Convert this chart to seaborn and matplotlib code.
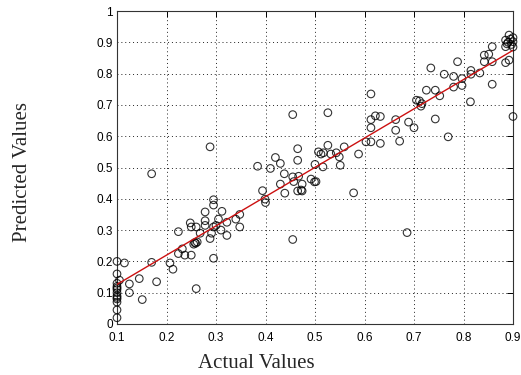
import matplotlib
matplotlib.use("Agg")
import matplotlib.pyplot as plt
import seaborn as sns
import pandas as pd
import numpy as np

actual = [0.1, 0.1, 0.1, 0.1, 0.1, 0.1, 0.1, 0.1, 0.1, 0.1, 0.1, 0.1, 0.1,
          0.115, 0.105, 0.125, 0.125, 0.145, 0.151, 0.17, 0.17, 0.18, 0.207, 0.213, 0.224,
          0.224, 0.232, 0.237, 0.25, 0.248, 0.25, 0.255, 0.257, 0.259, 0.262, 0.26, 0.26,
          0.268, 0.278, 0.278, 0.278, 0.288, 0.291, 0.295, 0.295, 0.295, 0.295, 0.3, 0.305,
          0.31, 0.312, 0.322, 0.322, 0.34, 0.348, 0.348, 0.288,
          0.384, 0.394, 0.399, 0.4, 0.41, 0.42, 0.43, 0.43, 0.438, 0.439, 0.455, 0.455,
          0.457, 0.465, 0.467, 0.474, 0.474, 0.492, 0.5, 0.502, 0.455, 0.465, 0.465, 0.507,
          0.499, 0.516, 0.472,
          0.526, 0.512, 0.517, 0.526, 0.532, 0.543, 0.549, 0.551, 0.559, 0.578, 0.588, 0.603,
          0.613, 0.613, 0.613, 0.622, 0.632, 0.632, 0.613, 0.663, 0.663, 0.671, 0.686, 0.689,
          0.7, 0.705, 0.711, 0.714, 0.716, 0.725, 0.734, 0.743, 0.743, 0.752, 0.761, 0.769,
          0.78, 0.78, 0.788, 0.797, 0.797, 0.815, 0.815, 0.814, 0.833, 0.842, 0.842, 0.851,
          0.858, 0.858, 0.858, 0.885, 0.885, 0.885, 0.89, 0.892, 0.892, 0.9, 0.9, 0.895,
          0.9, 0.888, 0.897, 0.9]
predicted = [0.02, 0.045, 0.07, 0.08, 0.09, 0.10, 0.11, 0.12, 0.13, 0.16, 0.2, 0.085, 0.115,
             0.195, 0.14, 0.128, 0.10, 0.145, 0.078, 0.197, 0.48, 0.135, 0.195, 0.175, 0.295,
             0.225, 0.24, 0.22, 0.22, 0.323, 0.31, 0.255, 0.26, 0.258, 0.262, 0.31, 0.113,
             0.29, 0.358, 0.33, 0.315, 0.273, 0.29, 0.21, 0.397, 0.38, 0.31, 0.315, 0.335,
             0.30, 0.36, 0.325, 0.283, 0.335, 0.35, 0.31, 0.566,
             0.504, 0.426, 0.399, 0.388, 0.497, 0.532, 0.513, 0.447, 0.48, 0.418, 0.27, 0.47,
             0.455, 0.425, 0.472, 0.425, 0.447, 0.463, 0.51, 0.455, 0.669, 0.56, 0.523, 0.55,
             0.454, 0.502, 0.428,
             0.675, 0.543, 0.547, 0.571, 0.543, 0.547, 0.534, 0.507, 0.566, 0.419, 0.543, 0.582,
             0.582, 0.627, 0.653, 0.665, 0.663, 0.577, 0.735, 0.653, 0.619, 0.584, 0.292, 0.645,
             0.627, 0.715, 0.713, 0.696, 0.704, 0.747, 0.818, 0.747, 0.655, 0.729, 0.798, 0.598,
             0.791, 0.757, 0.838, 0.762, 0.784, 0.81, 0.798, 0.71, 0.802, 0.859, 0.838, 0.862,
             0.886, 0.838, 0.766, 0.835, 0.886, 0.907, 0.9, 0.923, 0.843, 0.902, 0.663, 0.91,
             0.885, 0.895, 0.893, 0.915]

x_ticks = [0.1, 0.2, 0.3, 0.4, 0.5, 0.6, 0.7, 0.8, 0.9]
x_tick_labels = ["0.1", "0.2", "0.3", "0.4", "0.5", "0.6", "0.7", "0.8", "0.9"]
y_ticks = [0, 0.1, 0.2, 0.3, 0.4, 0.5, 0.6, 0.7, 0.8, 0.9, 1]
y_tick_labels = ["0", "0.1", "0.2", "0.3", "0.4", "0.5", "0.6", "0.7", "0.8", "0.9", "1"]

df = pd.DataFrame({"Actual": actual, "Predicted": predicted})

sns.set_style("white")
plt.rcParams["font.family"] = ["Liberation Sans", "DejaVu Sans"]

fig = plt.figure(figsize=(5.21, 3.75), dpi=100)
ax = fig.add_axes([117/521, 1 - 324/375, (513 - 117)/521, (324 - 11)/375])

sns.regplot(data=df, x="Actual", y="Predicted", ax=ax, ci=None, truncate=True,
            scatter_kws=dict(s=30, facecolors="none", edgecolors="black",
                             linewidths=0.8, clip_on=False, zorder=3),
            line_kws=dict(color="#cc1010", linewidth=1.0, zorder=4))

ax.set_xlim(0.1, 0.9)
ax.set_ylim(0, 1)
ax.set_xticks(x_ticks)
ax.set_xticklabels(x_tick_labels)
ax.set_yticks(y_ticks)
ax.set_yticklabels(y_tick_labels)
ax.set_xlabel("")
ax.set_ylabel("")
ax.grid(True, linestyle=(0, (1, 3)), color="#222222", linewidth=0.7)
ax.tick_params(direction="in", length=4, width=0.7, labelsize=8.5, colors="black",
               top=True, right=True)
ax.tick_params(axis="x", pad=6)
ax.tick_params(axis="y", pad=3)
for s in ax.spines.values():
    s.set_color("#333333")
    s.set_linewidth(0.8)

fig.text(256/521, 1 - 363/375, "Actual Values", ha="center", va="center",
         fontsize=15, family=["Liberation Serif", "DejaVu Serif"])
fig.text(23/521, 1 - 172/375, "Predicted Values", ha="center", va="center",
         rotation=90, fontsize=15, family=["Liberation Serif", "DejaVu Serif"])

fig.savefig("out.png", dpi=100, facecolor="white")
